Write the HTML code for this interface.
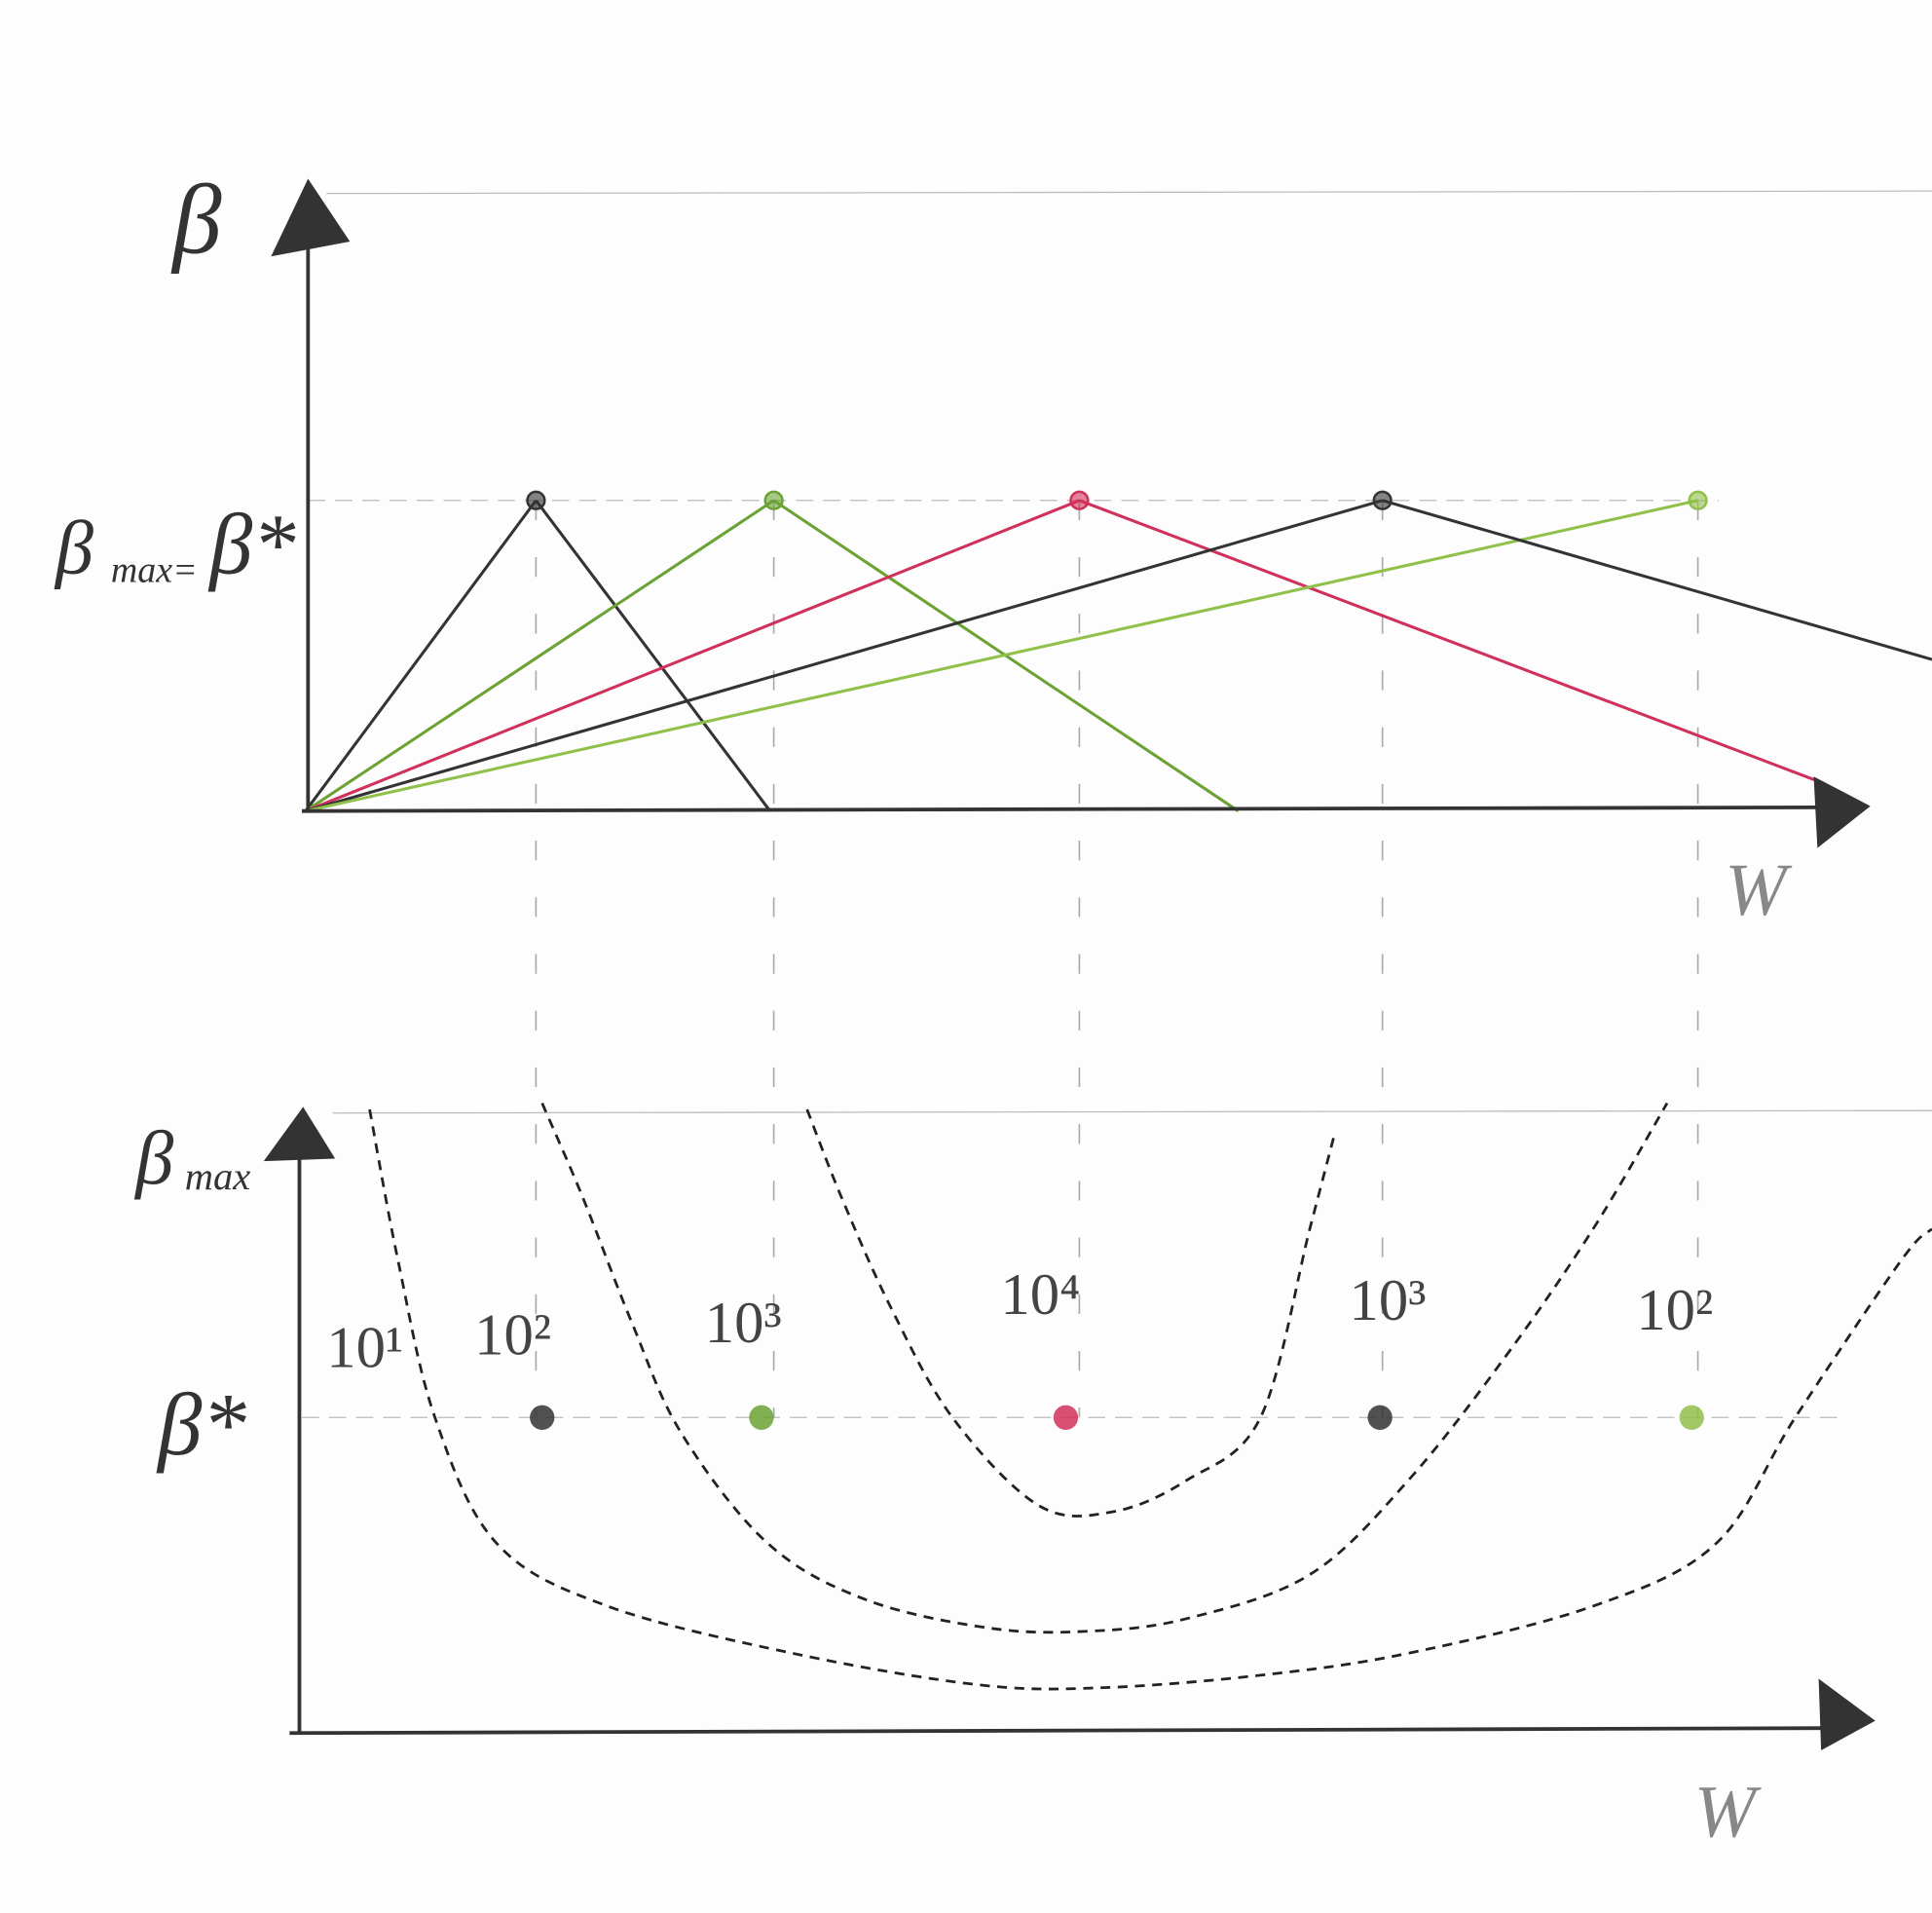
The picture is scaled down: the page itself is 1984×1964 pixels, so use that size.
<!DOCTYPE html>
<html><head><meta charset="utf-8"><style>
html,body{margin:0;padding:0;background:#fdfdfd;}
svg{display:block;}
text{font-family:"Liberation Serif",serif;font-style:italic;fill:#333;}
</style></head><body>
<svg width="1984" height="1964" viewBox="0 0 1568 1552" preserveAspectRatio="none" xmlns="http://www.w3.org/2000/svg">
<g id="grid"></g>
<g id="topchart"></g>
<g id="bot"></g>
</svg>
<script>
// Top chart data (W in arbitrary units, beta normalized 0..1)
const peakW = [187, 380, 628, 874, 1130];
const endW = [377, 757, 1225, null, null];
const endBeta = [0, 0, 0.10, null, null];
const seriesColors = ['#333', '#6aa233', '#d0305a', '#333', '#8fc04a'];
// Bottom chart dots (W positions, beta*=1)
const dotW = [197, 375, 622, 877, 1130];
const curveLabels = ['10¹', '10²', '10³', '10⁴', '10³', '10²'];
const labelW = [22, 142, 329, 569, 852, 1085];
const labelB = [1.16, 1.2, 1.24, 1.33, 1.31, 1.28];
// Bottom dashed curves: W and beta-max values (beta*=1 level, top=2)
const curveW = [
  [412, 440, 480, 530, 600, 660, 720, 780, 820, 840],
  [197, 230, 270, 310, 380, 460, 560, 640, 720, 820, 900, 980, 1050, 1110],
  [57, 80, 110, 160, 250, 400, 550, 650, 780, 900, 1050, 1150, 1214, 1300, 1325]
];
const curveB = [
  [1.98, 1.7, 1.35, 1.0, 0.72, 0.7, 0.8, 1.0, 1.6, 1.9],
  [2.0, 1.7, 1.3, 0.95, 0.6, 0.42, 0.33, 0.32, 0.36, 0.5, 0.8, 1.2, 1.6, 2.0],
  [1.98, 1.5, 1.0, 0.6, 0.4, 0.25, 0.15, 0.14, 0.18, 0.25, 0.4, 0.6, 1.0, 1.5, 1.6]
];
const NS = 'http://www.w3.org/2000/svg';
function mk(tag, attrs, parent, txt) {
  const e = document.createElementNS(NS, tag);
  for (const k in attrs) e.setAttribute(k, attrs[k]);
  if (txt) e.textContent = txt;
  parent.appendChild(e); return e;
}
const topX0 = 248, topY0 = 658, topY1 = 406;
const tx = w => topX0 + w;
const ty = b => topY0 - b * (topY0 - topY1);
const botX0 = 243, botY0 = 1405, botY1 = 1150;
const bx = w => botX0 + w;
const by = b => botY0 - b * (botY0 - botY1);

const grid = document.getElementById('grid');
let l;
l = mk('line', {x1:265, y1:157, x2:1568, y2:155, stroke:'#bbb', 'stroke-width':1}, grid);
 
l = mk('line', {x1:250, y1:ty(1), x2:1395, y2:ty(1), stroke:'#bbb', 'stroke-width':1, 'stroke-dasharray':'14 8'}, grid);
 
l = mk('line', {x1:270, y1:903, x2:1568, y2:901, stroke:'#bbb', 'stroke-width':1}, grid);
 
l = mk('line', {x1:245, y1:by(1), x2:1495, y2:by(1), stroke:'#bbb', 'stroke-width':1, 'stroke-dasharray':'14 8'}, grid);
 
peakW.forEach((w, i) => {
  const v = mk('line', {x1:tx(w), y1:ty(1), x2:tx(w), y2:by(1), stroke:'#aaa', 'stroke-width':1.3, 'stroke-dasharray':'16 30'}, grid);
  
  
});

const topG = document.getElementById('topchart');
peakW.forEach((w, i) => {
  const a = mk('line', {x1:tx(0), y1:ty(0), x2:tx(w), y2:ty(1), stroke:seriesColors[i], 'stroke-width':2.4}, topG);
  
  
  if (endW[i] !== null) {
    const d = mk('line', {x1:tx(w), y1:ty(1), x2:tx(endW[i]), y2:ty(endBeta[i]), stroke:seriesColors[i], 'stroke-width':2.4}, topG);
    
    
  }
  const c = mk('circle', {cx:tx(w), cy:ty(1), r:7, fill:seriesColors[i], 'fill-opacity':0.6, stroke:seriesColors[i], 'stroke-width':2}, topG);
  
  
});
l = mk('line', {x1:tx(874), y1:ty(1), x2:1568, y2:535, stroke:'#333', 'stroke-width':2.4}, topG);
 
l = mk('line', {x1:250, y1:658, x2:250, y2:190, stroke:'#333', 'stroke-width':3}, topG);
 
l = mk('polygon', {points:'250,145 220,208 284,196', fill:'#333'}, topG);
 
l = mk('line', {x1:245, y1:658, x2:1480, y2:655, stroke:'#333', 'stroke-width':3}, topG);
 
l = mk('polygon', {points:'1518,654 1472,630 1475,688', fill:'#333'}, topG);
 
l = mk('text', {x:140, y:205, 'font-size':80}, topG, 'β');
 
l = mk('text', {x:45, y:465, 'font-size':62}, topG, 'β');
 
l = mk('text', {x:90, y:472, 'font-size':30}, topG, 'max=');
 
l = mk('text', {x:170, y:465, 'font-size':70}, topG, 'β*');
 
l = mk('text', {x:1400, y:742, 'font-size':60, style:'fill:#888'}, topG, 'W');
 

const bot = document.getElementById('bot');
l = mk('line', {x1:243, y1:1405, x2:243, y2:940, stroke:'#333', 'stroke-width':3}, bot);
 
l = mk('polygon', {points:'246,898 214,942 272,940', fill:'#333'}, bot);
 
l = mk('line', {x1:235, y1:1406, x2:1485, y2:1402, stroke:'#333', 'stroke-width':3}, bot);
 
l = mk('polygon', {points:'1522,1396 1476,1362 1478,1420', fill:'#333'}, bot);
 
l = mk('text', {x:110, y:960, 'font-size':62}, bot, 'β');
 
l = mk('text', {x:150, y:965, 'font-size':32}, bot, 'max');
 
l = mk('text', {x:128, y:1180, 'font-size':72}, bot, 'β*');
 
l = mk('text', {x:1375, y:1490, 'font-size':60, style:'fill:#888'}, bot, 'W');
 
curveW.forEach((ws, i) => {
  const pts = ws.map((w, j) => [bx(w), by(curveB[i][j])]);
  let d = 'M' + pts[0].join(',');
  for (let j = 1; j < pts.length; j++) {
    const p0 = pts[j-2] || pts[j-1], p1 = pts[j-1], p2 = pts[j], p3 = pts[j+1] || p2;
    const c1 = [p1[0] + (p2[0]-p0[0])/6, p1[1] + (p2[1]-p0[1])/6];
    const c2 = [p2[0] - (p3[0]-p1[0])/6, p2[1] - (p3[1]-p1[1])/6];
    d += ' C' + c1.join(',') + ' ' + c2.join(',') + ' ' + p2.join(',');
  }
  const p = mk('path', {d:d, fill:'none', stroke:'#222', 'stroke-width':2.2, 'stroke-dasharray':'8 6'}, bot);
  
  
});
dotW.forEach((w, i) => {
  const c = mk('circle', {cx:bx(w), cy:by(1), r:10, fill:seriesColors[i], 'fill-opacity':0.85}, bot);
  
  
});
curveLabels.forEach((t, i) => {
  const tt = mk('text', {x:bx(labelW[i]), y:by(labelB[i]), 'font-size':48, style:'font-style:normal;fill:#444'}, bot, t);
  
  
});
</script>
</body></html>
